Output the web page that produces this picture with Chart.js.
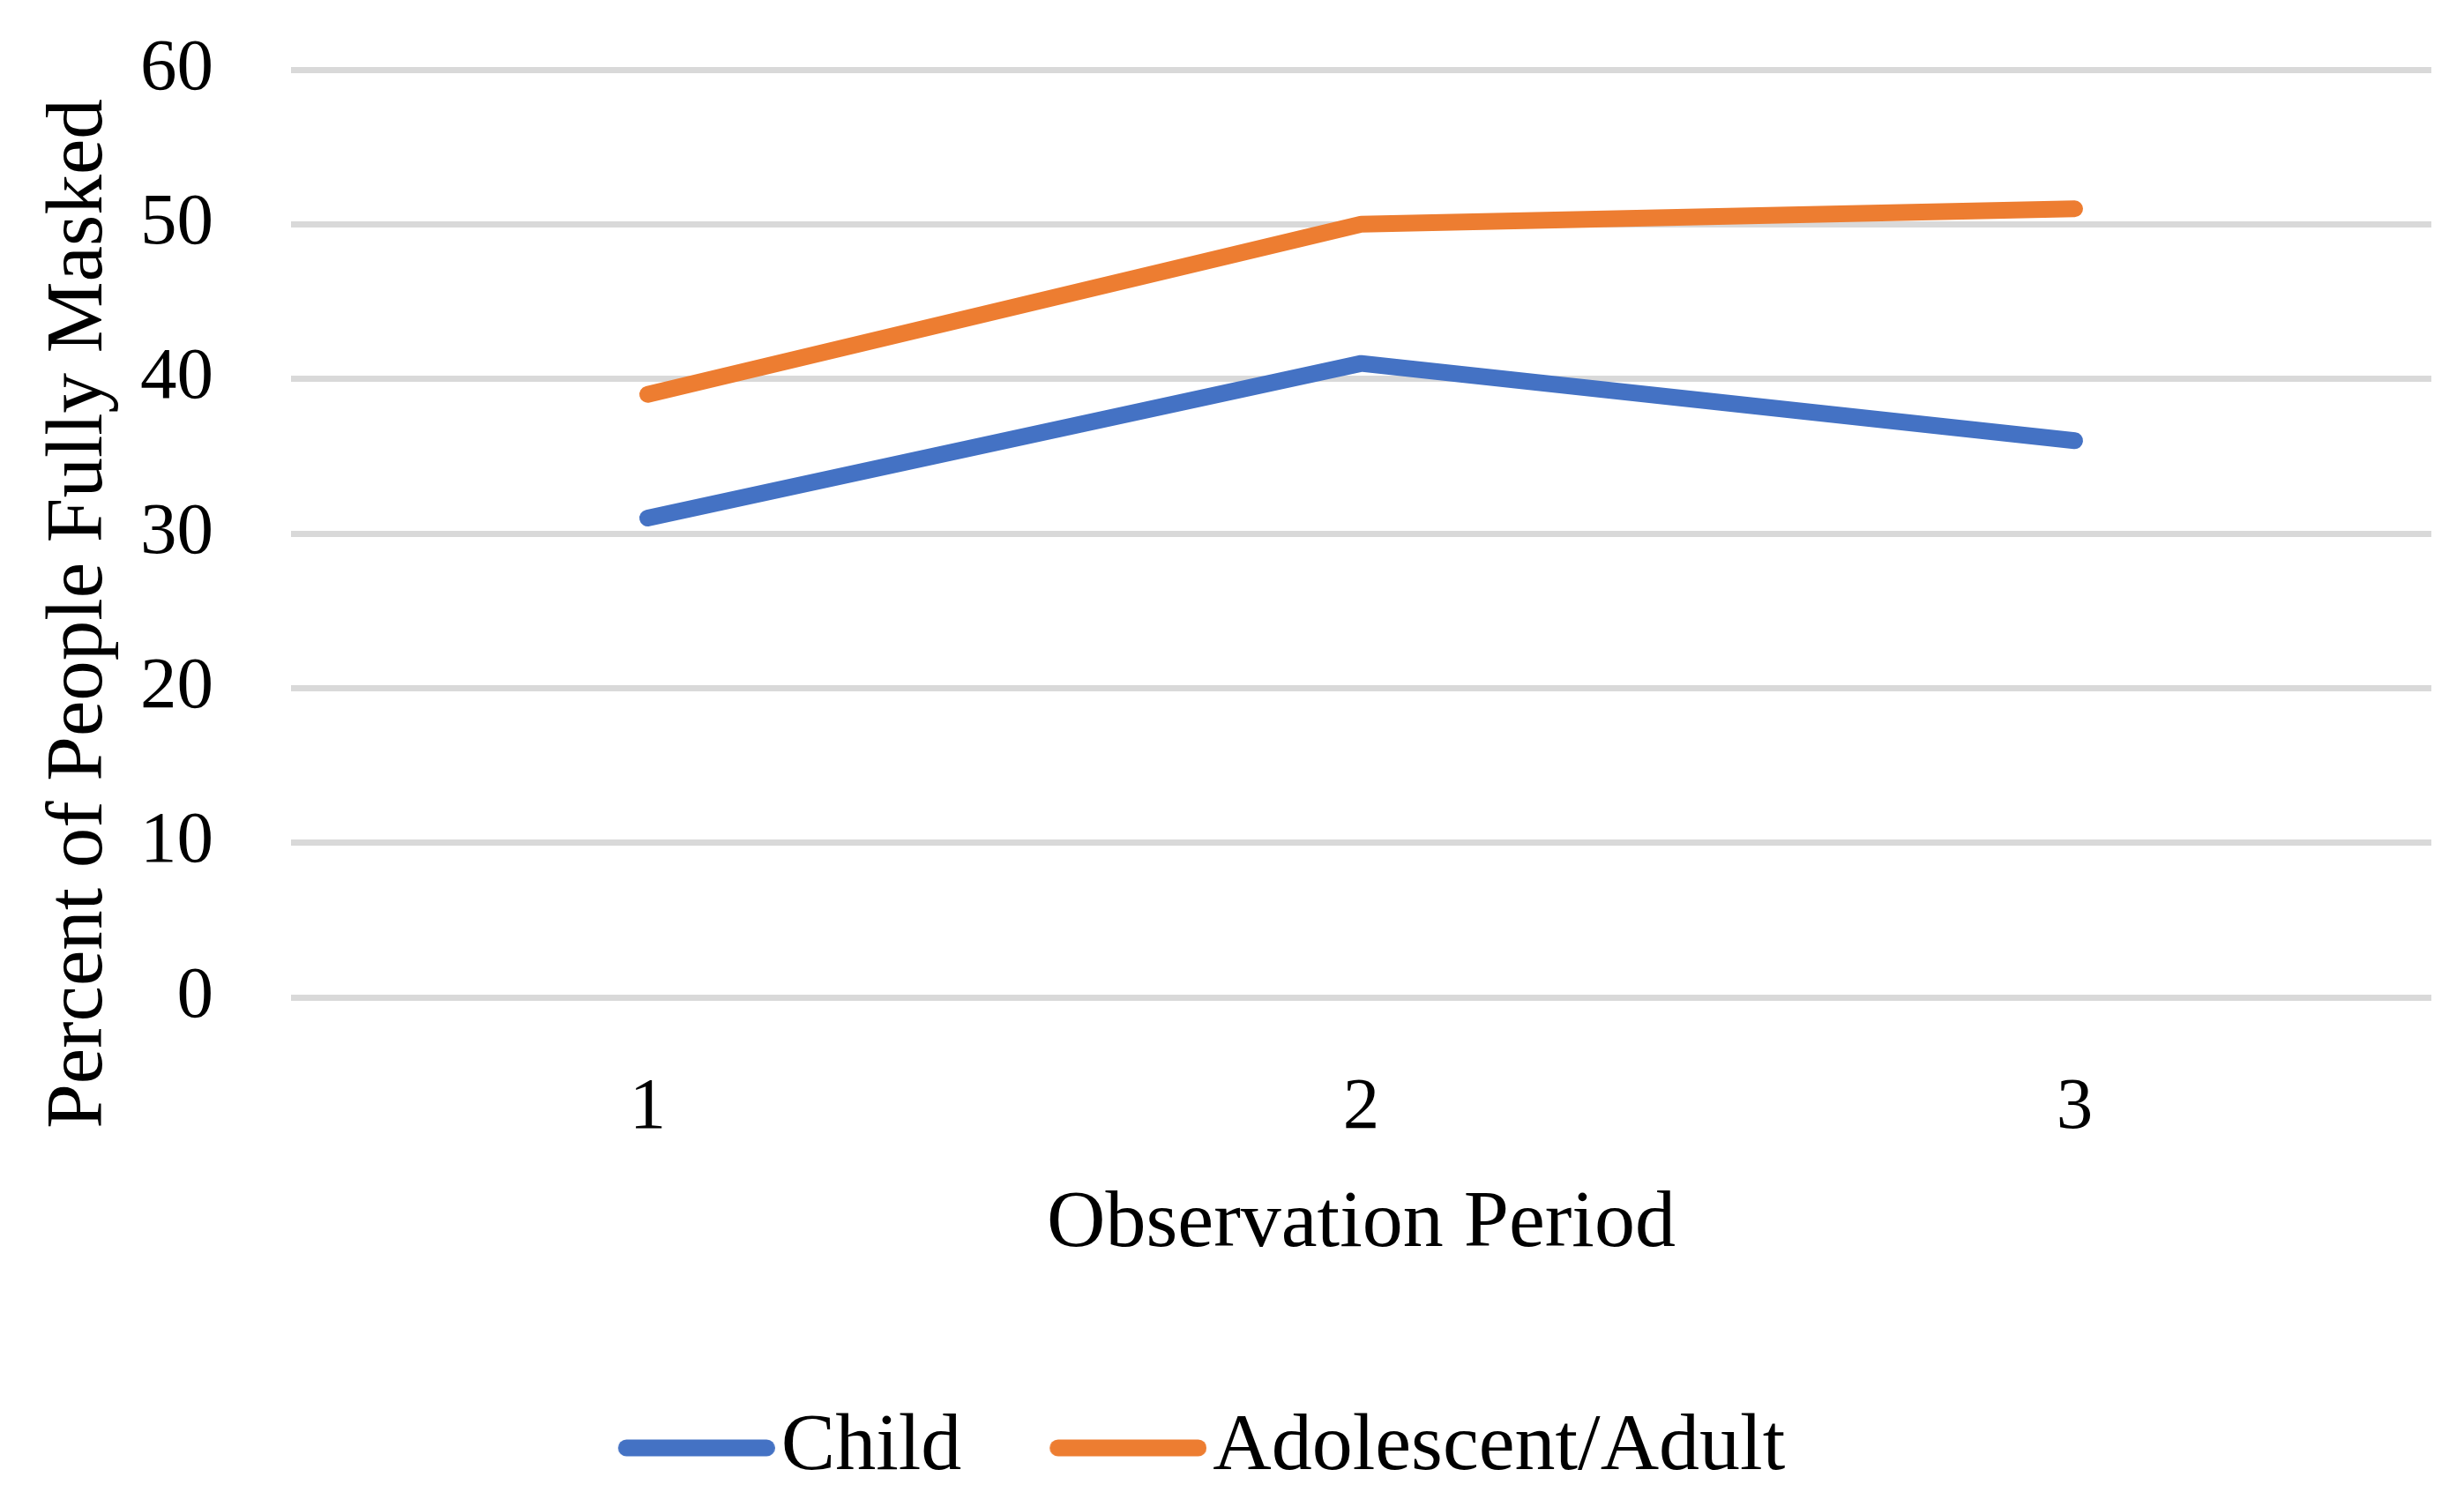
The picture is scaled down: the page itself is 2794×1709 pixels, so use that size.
<!DOCTYPE html>
<html lang="en">
<head>
<meta charset="UTF-8">
<title>Percent of People Fully Masked</title>
<script src="https://cdn.jsdelivr.net/npm/chart.js"></script>
<style>
  html, body { margin: 0; padding: 0; background: #fff; }
  #wrap { width: 2794px; height: 1709px; }
</style>
</head>
<body>
<div id="wrap"><canvas id="maskChart"></canvas></div>
<script>
const periods = ['1', '2', '3'];
const childValues = [31, 41, 36];
const adultValues = [39, 50, 51];
const yTicks = [0, 10, 20, 30, 40, 50, 60];

const serif = "'Liberation Serif', 'Times New Roman', serif";

// legend swatch: thick round-capped line, sitting right of the box centre
function swatch(color) {
    const c = document.createElement('canvas');
    c.width = 291;
    c.height = 24;
    const g = c.getContext('2d');
    g.strokeStyle = color;
    g.lineWidth = 19;
    g.lineCap = 'round';
    g.beginPath();
    g.moveTo(113 + 9.5, 12);
    g.lineTo(291 - 9.5, 12);
    g.stroke();
    return c;
}

// nudge the legend row left so it sits where the original has it
const shiftLegend = {
    id: 'shiftLegend',
    afterLayout(chart) {
        chart.legend.left -= 53;
        chart.legend.right -= 53;
    }
};

const ctx = document.getElementById('maskChart').getContext('2d');
new Chart(ctx, {
    type: 'line',
    data: {
        labels: periods,
        datasets: [
            { label: 'Child', data: childValues, borderColor: '#4472C4', backgroundColor: '#4472C4' },
            { label: 'Adolescent/Adult', data: adultValues, borderColor: '#ED7D31', backgroundColor: '#ED7D31' }
        ]
    },
    options: {
        responsive: true,
        maintainAspectRatio: false,
        animation: false,
        layout: { padding: { left: 0, right: 37, top: 79, bottom: 11 } },
        elements: {
            line: { borderWidth: 19, borderCapStyle: 'round', borderJoinStyle: 'round', tension: 0 },
            point: { radius: 0, hoverRadius: 0 }
        },
        scales: {
            x: {
                offset: true,
                grid: { display: false, drawTicks: false },
                border: { display: false },
                ticks: { color: '#000', font: { family: serif, size: 83 }, padding: 76 },
                title: {
                    display: true,
                    text: 'Observation Period',
                    color: '#000',
                    font: { family: serif, size: 92 },
                    padding: { top: 0, bottom: 126 }
                },
                afterFit(s) {
                    s.height = 439;
                    s.paddingLeft = 0;
                    s.paddingRight = 0;
                }
            },
            y: {
                min: 0,
                max: 60,
                afterBuildTicks(s) { s.ticks = yTicks.map(v => ({ value: v })); },
                grid: { color: '#D9D9D9', lineWidth: 7, drawTicks: false },
                border: { display: false },
                ticks: { color: '#000', font: { family: serif, size: 83 }, padding: 88 },
                title: {
                    display: true,
                    text: 'Percent of People Fully Masked        ',
                    color: '#000',
                    font: { family: serif, size: 91 },
                    padding: { top: 36, bottom: 0 }
                },
                afterFit(s) {
                    s.width = 330;
                    s.paddingTop = 0;
                    s.paddingBottom = 0;
                }
            }
        },
        plugins: {
            legend: {
                position: 'bottom',
                labels: {
                    usePointStyle: true,
                    pointStyleWidth: 213,
                    boxHeight: 19,
                    padding: 26,
                    color: '#000',
                    font: { family: serif, size: 92 },
                    generateLabels(chart) {
                        return chart.data.datasets.map((ds, i) => ({
                            text: ds.label,
                            pointStyle: swatch(ds.borderColor),
                            fillStyle: ds.borderColor,
                            strokeStyle: ds.borderColor,
                            lineWidth: 0,
                            datasetIndex: i,
                            hidden: false
                        }));
                    }
                }
            },
            tooltip: { enabled: false }
        }
    },
    plugins: [shiftLegend]
});
</script>
</body>
</html>
